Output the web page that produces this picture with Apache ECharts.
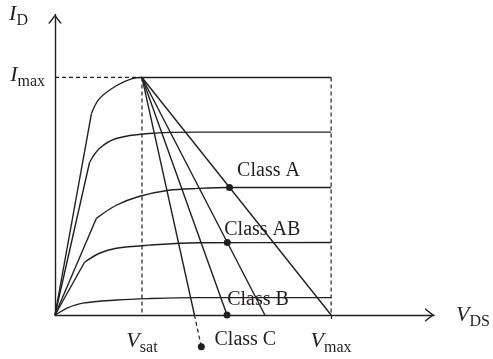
<!DOCTYPE html>
<html>
<head>
<meta charset="utf-8">
<script src="https://cdn.jsdelivr.net/npm/echarts@6/dist/echarts.min.js"></script>
<style>
  html, body { margin: 0; padding: 0; background: #fff; }
  #chart { width: 493px; height: 359px; }
</style>
</head>
<body>
<div id="chart"></div>
<script>
// Drain characteristics I_D(V_DS), normalised so that V_max = 10 and I_max = 1.
const vSat = 3.15;
const vMax = 10;
const iMax = 1;
const vAxisMax = 13.73;
const iAxisMax = 1.265;

// One curve per gate drive: ohmic ramp up to the knee, then the bend into saturation.
const curveTop = [[0, 0], [1.32, 0.848], [1.61, 0.911], [2.22, 0.965], [2.79, 0.995], [3.15, 1], [10, 1]];
const curve2 = [[0, 0], [1.25, 0.642], [1.61, 0.701], [2.22, 0.743], [3.40, 0.764], [5.19, 0.770], [10, 0.770]];
const curve3 = [[0, 0], [1.50, 0.407], [2.22, 0.462], [3.04, 0.499], [4.12, 0.525], [5.19, 0.533], [6.27, 0.537], [10, 0.537]];
const curve4 = [[0, 0], [1.07, 0.222], [1.61, 0.260], [2.22, 0.281], [3.40, 0.294], [5.19, 0.304], [10, 0.305]];
const curve5 = [[0, 0], [0.43, 0.029], [1.00, 0.050], [2.22, 0.063], [3.40, 0.069], [5.19, 0.073], [10, 0.073]];
const curves = [curveTop, curve2, curve3, curve4, curve5];

// Load lines all start at the knee (V_sat, I_max); where each one meets the V_DS axis.
const classNames = ['Class A', 'Class AB', 'Class B', 'Class C'];
const loadLineEnd = [10, 7.6, 6.23, 5.05];
// Quiescent points for each class.
const qVds = [6.32, 6.24, 6.23, 5.30];
const qId = [0.537, 0.305, 0, -0.134];

const ink = '#231f20';
const serif = '"Liberation Serif", "DejaVu Serif", serif';
const solid = { color: ink, width: 1.4 };
const dashed = { color: ink, width: 1.2, type: [4, 3] };

const richTokens = {
  v: { fontFamily: serif, fontStyle: 'italic', fontSize: 22, color: ink, lineHeight: 24, verticalAlign: 'middle' },
  s: { fontFamily: serif, fontSize: 16, color: ink, lineHeight: 16, verticalAlign: 'middle', padding: [13, 0, 0, 0] }
};

// Open chevron arrow head, pointing up in its own frame.
const chevron = 'path://M7,0 L14,9 L12.2,9 L7,2.3 L1.8,9 L0,9 Z';

function lineSeries(data, style, smooth) {
  return {
    type: 'line', data: data, showSymbol: false, symbol: 'none', silent: true,
    smooth: smooth || false, clip: false,
    lineStyle: style, z: 3
  };
}

const series = [];
curves.forEach(function (c) {
  series.push(lineSeries(c.slice(0, 2), solid));
  series.push(lineSeries(c.slice(1), solid, 0.35));
});
loadLineEnd.forEach(function (v) {
  series.push(lineSeries([[vSat, iMax], [v, 0]], solid));
});
// Class C is biased beyond cut-off: its load line continues below the axis.
series.push(lineSeries([[loadLineEnd[3], 0], [qVds[3], qId[3]]], dashed));
// Guides for I_max, V_sat and V_max.
series.push(lineSeries([[0, iMax], [vSat, iMax]], dashed));
series.push(lineSeries([[vSat, iMax], [vSat, 0]], dashed));
series.push(lineSeries([[vMax, iMax], [vMax, 0]], dashed));

// Label centre relative to its quiescent point, in pixels.
const labelOffsets = [[39, -17], [35, -13], [31, -15], [44, -7]];
series.push({
  type: 'scatter', clip: false, silent: true, z: 5,
  symbol: 'circle', symbolSize: 7,
  itemStyle: { color: ink, opacity: 1 },
  data: classNames.map(function (name, k) {
    return {
      value: [qVds[k], qId[k]], name: name,
      label: { position: [3.5 + labelOffsets[k][0], 3.5 + labelOffsets[k][1]] }
    };
  }),
  label: {
    show: true, formatter: '{b}', align: 'center', verticalAlign: 'middle',
    fontFamily: serif, fontSize: 20, color: ink, opacity: 1, textBorderWidth: 0
  }
});

const chart = echarts.init(document.getElementById('chart'), null, { renderer: 'canvas' });
chart.setOption({
  animation: false,
  backgroundColor: '#fff',
  grid: { left: 55, right: 55, top: 14, bottom: 44, containLabel: false },
  xAxis: {
    type: 'value', min: 0, max: vAxisMax,
    splitLine: { show: false },
    axisLine: {
      show: true, onZero: true, lineStyle: solid,
      symbol: ['none', chevron], symbolSize: [14, 9], symbolOffset: [0, -4.5]
    },
    axisTick: { show: true, customValues: [vMax], length: 7, lineStyle: dashed },
    axisLabel: {
      customValues: [vSat, vMax], margin: 14,
      formatter: function (v) { return v === vSat ? '{v|V}{s|sat}' : '{v|V}{s|max}'; },
      rich: richTokens
    },
    name: '{v|V}{s|DS}', nameLocation: 'end', nameGap: 22,
    nameTextStyle: { rich: richTokens }
  },
  yAxis: {
    type: 'value', min: 0, max: iAxisMax,
    splitLine: { show: false },
    axisLine: {
      show: true, onZero: true, lineStyle: solid,
      symbol: ['none', chevron], symbolSize: [14, 9], symbolOffset: [0, -4.5]
    },
    axisTick: { show: false },
    axisLabel: {
      customValues: [iMax], margin: 10,
      formatter: function () { return '{v|I}{s|max}'; },
      rich: richTokens, padding: [0, 0, 5, 0]
    },
    name: '{v|I}{s|D}', nameLocation: 'end', nameGap: 0,
    nameTextStyle: { rich: richTokens, align: 'right', verticalAlign: 'middle', padding: [0, 27, 0, 0] }
  },
  series: series
});
</script>
</body>
</html>
